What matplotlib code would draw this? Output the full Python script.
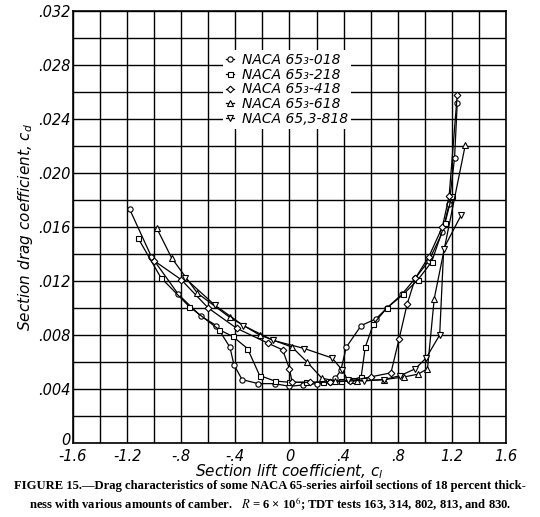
import matplotlib
matplotlib.use("Agg")
import matplotlib.pyplot as plt
import matplotlib.transforms as mtransforms
import numpy as np

# NACA 65-series, 18 percent thick, various camber
cl_018 = [-1.18, -1.02, -0.82, -0.655, -0.54, -0.44, -0.41, -0.35, -0.23, -0.11, 0.0, 0.1, 0.2,
          0.3, 0.34, 0.38, 0.42, 0.53, 0.64, 0.72, 0.83, 0.93, 1.03, 1.13, 1.18, 1.22, 1.24]
cd_018 = [0.0173, 0.0138, 0.0110, 0.0094, 0.0087, 0.0071, 0.0058, 0.0047, 0.0044, 0.0044, 0.0042, 0.0043, 0.0044,
          0.0045, 0.0048, 0.0054, 0.0071, 0.0087, 0.0092, 0.0100, 0.0110, 0.0122, 0.0135, 0.0156, 0.0177, 0.0211, 0.0252]

cl_218 = [-1.12, -0.95, -0.74, -0.52, -0.42, -0.31, -0.22, -0.11, 0.0, 0.12, 0.25, 0.38, 0.47,
          0.53, 0.56, 0.62, 0.72, 0.84, 0.95, 1.05, 1.15, 1.20]
cd_218 = [0.0152, 0.01225, 0.0101, 0.0084, 0.0079, 0.0070, 0.0050, 0.0046, 0.0045, 0.0045, 0.0045, 0.0046, 0.0047,
          0.0049, 0.0071, 0.0088, 0.0100, 0.0110, 0.0121, 0.0134, 0.0163, 0.0183]

cl_418 = [-1.0, -0.8, -0.6, -0.39, -0.16, -0.05, 0.0, 0.02, 0.15, 0.3, 0.45, 0.6, 0.75,
          0.81, 0.87, 0.93, 1.03, 1.13, 1.18, 1.24]
cd_418 = [0.0135, 0.0121, 0.0100, 0.0085, 0.0074, 0.0069, 0.0055, 0.0045, 0.0045, 0.0045, 0.0046, 0.0049, 0.0052,
          0.0077, 0.0103, 0.0122, 0.0138, 0.0160, 0.0183, 0.0258]

cl_618 = [-0.98, -0.87, -0.68, -0.44, -0.22, 0.02, 0.13, 0.24, 0.34, 0.5, 0.7, 0.85, 0.95,
          1.02, 1.07, 1.30]
cd_618 = [0.0159, 0.0137, 0.0111, 0.0093, 0.0080, 0.0071, 0.0060, 0.0048, 0.0046, 0.0046, 0.0047, 0.0049, 0.0051,
          0.0055, 0.0107, 0.0221]

cl_818 = [-0.77, -0.55, -0.34, -0.12, 0.11, 0.315, 0.39, 0.43, 0.55, 0.7, 0.82, 0.93, 1.01,
          1.11, 1.14, 1.27]
cd_818 = [0.0122, 0.0102, 0.0087, 0.0076, 0.0070, 0.0063, 0.0054, 0.0047, 0.0046, 0.0047, 0.0050, 0.0055, 0.0063,
          0.0080, 0.0144, 0.0169]

labels = ["NACA 65\u2083-018", "NACA 65\u2083-218", "NACA 65\u2083-418",
          "NACA 65\u2083-618", "NACA 65,3-818"]
markers = ["o", "s", "D", "^", "v"]

xticks = [-1.6, -1.2, -0.8, -0.4, 0, 0.4, 0.8, 1.2, 1.6]
xticklabels = ["-1.6", "-1.2", "-.8", "-.4", "0", ".4", ".8", "1.2", "1.6"]
yticks = [0, 0.004, 0.008, 0.012, 0.016, 0.020, 0.024, 0.028, 0.032]
yticklabels = ["0", ".004", ".008", ".012", ".016", ".020", ".024", ".028", ".032"]

fig = plt.figure(figsize=(5.4, 5.17), dpi=100)
ax = fig.add_axes([0.135, 0.143, 0.802, 0.836])

series = [(cl_018, cd_018), (cl_218, cd_218), (cl_418, cd_418), (cl_618, cd_618), (cl_818, cd_818)]
sizes = [3.8, 3.6, 3.4, 4.0, 4.0]
for (x, y), m, ms, lab in zip(series, markers, sizes, labels):
    ax.plot(x, y, "-", color="black", lw=0.9, marker=m, ms=ms, mfc="white",
            mec="black", mew=0.8, label=lab, zorder=3)

ax.set_xlim(-1.6, 1.6)
ax.set_ylim(0, 0.032)
ax.set_xticks(xticks)
ax.set_xticklabels(xticklabels, fontstyle="italic", fontsize=10.5)
ax.set_yticks(yticks)
ax.set_yticklabels(yticklabels, fontstyle="italic", fontsize=10.5)
ax.set_xticks(np.arange(-1.6, 1.61, 0.2), minor=True)
ax.set_yticks(np.arange(0, 0.0321, 0.002), minor=True)
ax.grid(which="both", color="black", lw=1.0)
ax.tick_params(which="both", length=0)
ax.tick_params(axis="x", pad=4)
ax.tick_params(axis="y", pad=2)
for s in ax.spines.values():
    s.set_linewidth(1.2)

# lift the "0" on the drag axis a little so it clears the "-1.6"
zero_lab = ax.get_yticklabels()[0]
zero_lab.set_transform(zero_lab.get_transform() +
                       mtransforms.ScaledTranslation(0, 3 / 72, fig.dpi_scale_trans))

ax.set_xlabel("Section lift coefficient, $c_l$", fontstyle="italic", fontsize=11, labelpad=-1)
ax.set_ylabel("Section drag coefficient, $c_d$", fontstyle="italic", fontsize=11, labelpad=2)

leg = ax.legend(loc="upper left", bbox_to_anchor=(0.33, 0.925), frameon=True, fancybox=False,
                edgecolor="none", framealpha=1.0, fontsize=10, handlelength=0.6,
                handletextpad=0.6, labelspacing=0.05, borderpad=0.2)
for t in leg.get_texts():
    t.set_fontstyle("italic")
leg.set_zorder(5)

plt.rcParams["mathtext.fontset"] = "stix"
caption = ("FIGURE 15.\u2014Drag characteristics of some NACA 65-series airfoil sections of 18 percent thick-\n"
           "ness with various amounts of camber.   $R$ = 6 \u00d7 10$^6$; TDT tests 163, 314, 802, 813, and 830.")
fig.text(0.5, 0.008, caption, ha="center", va="bottom", fontsize=9.1, fontweight="bold",
         family="Liberation Serif", linespacing=1.25)

fig.savefig("out.png", dpi=100)
